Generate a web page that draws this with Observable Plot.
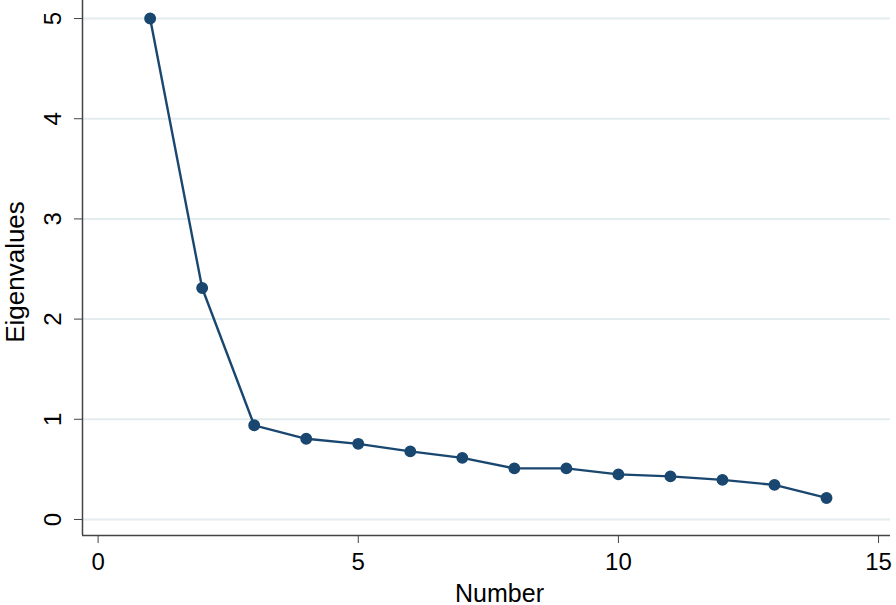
<!DOCTYPE html>
<html>
<head>
<meta charset="utf-8">
<script src="https://cdn.jsdelivr.net/npm/d3@7"></script>
<script src="https://cdn.jsdelivr.net/npm/@observablehq/plot@0.6"></script>
<style>
  html, body { margin: 0; padding: 0; background: #fff; }
  #chart svg { display: block; }
</style>
</head>
<body>
<div id="chart"></div>
<script>
const numbers = [1, 2, 3, 4, 5, 6, 7, 8, 9, 10, 11, 12, 13, 14];
const eigenvalues = [5.0, 2.31, 0.94, 0.805, 0.755, 0.68, 0.615, 0.51, 0.51, 0.45, 0.43, 0.395, 0.345, 0.215];
const xTicks = [0, 5, 10, 15];
const yTicks = [0, 1, 2, 3, 4, 5];
const xDomain = [-0.3, 15.23];
const yDomain = [-0.16, 5.18];
const xLabel = "Number";
const yLabel = "Eigenvalues";

const data = numbers.map((n, i) => ({n, v: eigenvalues[i]}));
const navy = "#1a476f";
const axisColor = "#444";

const chart = Plot.plot({
  width: 896,
  height: 605,
  marginLeft: 82,
  marginRight: 6,
  marginTop: 0,
  marginBottom: 70,
  style: {fontFamily: "'Liberation Sans', Arial, sans-serif", background: "#fff", color: "#000"},
  x: {domain: xDomain},
  y: {domain: yDomain},
  marks: [
    Plot.gridY(yTicks, {stroke: "#e3ecee", strokeOpacity: 1, strokeWidth: 2}),
    Plot.ruleX([xDomain[0]], {stroke: axisColor, strokeWidth: 1.5}),
    Plot.ruleY([yDomain[0]], {stroke: axisColor, strokeWidth: 1.5}),
    Plot.axisX(xTicks, {tickSize: 8, tickPadding: 9, fontSize: 24, stroke: axisColor,
      tickFormat: d3.format("d"), label: null}),
    Plot.axisY(yTicks, {tickSize: 8, stroke: axisColor, tickFormat: () => "", label: null}),
    Plot.text(yTicks, {y: d => d, frameAnchor: "left", dx: -29, rotate: -90, textAnchor: "middle",
      lineAnchor: "middle", fontSize: 24, fill: "#000", text: d => d3.format("d")(d)}),
    Plot.text([yLabel], {frameAnchor: "left", dx: -67, dy: 4, rotate: -90, textAnchor: "middle", fontSize: 26, fill: "#000", text: d => d}),
    Plot.text([xLabel], {frameAnchor: "bottom", dx: 13, dy: 66, fontSize: 25, fill: "#000", text: d => d}),
    Plot.line(data, {x: "n", y: "v", stroke: navy, strokeWidth: 2.4}),
    Plot.dot(data, {x: "n", y: "v", r: 5.2, fill: navy, stroke: navy})
  ]
});
document.getElementById("chart").appendChild(chart);
</script>
</body>
</html>
